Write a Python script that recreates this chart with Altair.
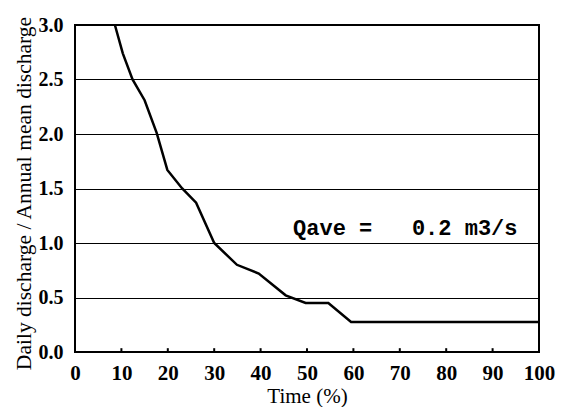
import altair as alt
import pandas as pd

# Flow duration curve
time_pct = [8.6, 10.3, 12.4, 15.0, 17.6, 19.9, 23.1, 26.1, 30.0, 34.9, 39.6, 45.4, 49.7, 54.6, 59.5, 100]
ratio = [3.0, 2.74, 2.50, 2.31, 2.01, 1.67, 1.50, 1.37, 1.0, 0.80, 0.72, 0.52, 0.45, 0.45, 0.275, 0.275]

x_ticks = [0, 10, 20, 30, 40, 50, 60, 70, 80, 90, 100]
y_ticks = [0.0, 0.5, 1.0, 1.5, 2.0, 2.5, 3.0]
minor_x = [10, 20, 30, 40, 50, 60, 70, 80, 90]

note_text = ["Qave =\u00a0\u00a0\u00a00.2 m3/s"]
note_x = [47.0]
note_y = [1.07]

curve = pd.DataFrame({"t": time_pct, "r": ratio})
ticks = pd.DataFrame({"t": minor_x, "y0": [0.0] * len(minor_x), "y1": [0.035] * len(minor_x)})
note = pd.DataFrame({"t": note_x, "r": note_y, "label": note_text})

SERIF = "Liberation Serif"

x_enc = alt.X(
    "t:Q",
    scale=alt.Scale(domain=[0, 100], nice=False),
    axis=alt.Axis(
        values=x_ticks, format="d", grid=False, ticks=False, domain=False,
        labelFont=SERIF, labelFontSize=21, labelFontWeight="bold", labelColor="black",
        labelPadding=10, labelOverlap=False, labelFlush=False,
        title="Time (%)", titleFont=SERIF, titleFontSize=21, titleFontWeight="normal",
        titleColor="black", titlePadding=2,
    ),
)
y_enc = alt.Y(
    "r:Q",
    scale=alt.Scale(domain=[0, 3], nice=False),
    axis=alt.Axis(
        values=y_ticks, format=".1f", grid=True, gridColor="black", gridWidth=1,
        gridOpacity=1, ticks=False, domain=False,
        labelFont=SERIF, labelFontSize=20, labelFontWeight="bold", labelColor="black",
        labelPadding=12, labelOverlap=False, labelFlush=False,
        title="Daily discharge / Annual mean discharge", titleFont=SERIF,
        titleFontSize=21.5, titleFontWeight="normal", titleColor="black",
        titlePadding=3, titleY=168,
    ),
)

line = alt.Chart(curve).mark_line(color="black", strokeWidth=2.5).encode(x=x_enc, y=y_enc)

tick_rules = alt.Chart(ticks).mark_rule(color="black", strokeWidth=2).encode(
    x="t:Q", y="y0:Q", y2="y1:Q"
)

label = alt.Chart(note).mark_text(
    font="Liberation Mono", fontSize=22, fontWeight="bold", color="black",
    align="left", baseline="alphabetic",
).encode(x="t:Q", y="r:Q", text="label:N")

chart = (
    alt.layer(line, tick_rules, label)
    .properties(
        width=464, height=327,
        autosize=alt.AutoSizeParams(type="none"),
        padding={"left": 67, "top": 17, "right": 17, "bottom": 55},
        background="white",
    )
    .configure_view(stroke="black", strokeWidth=2)
)

chart.save("out.html", embed_options={"renderer": "svg", "actions": False})
